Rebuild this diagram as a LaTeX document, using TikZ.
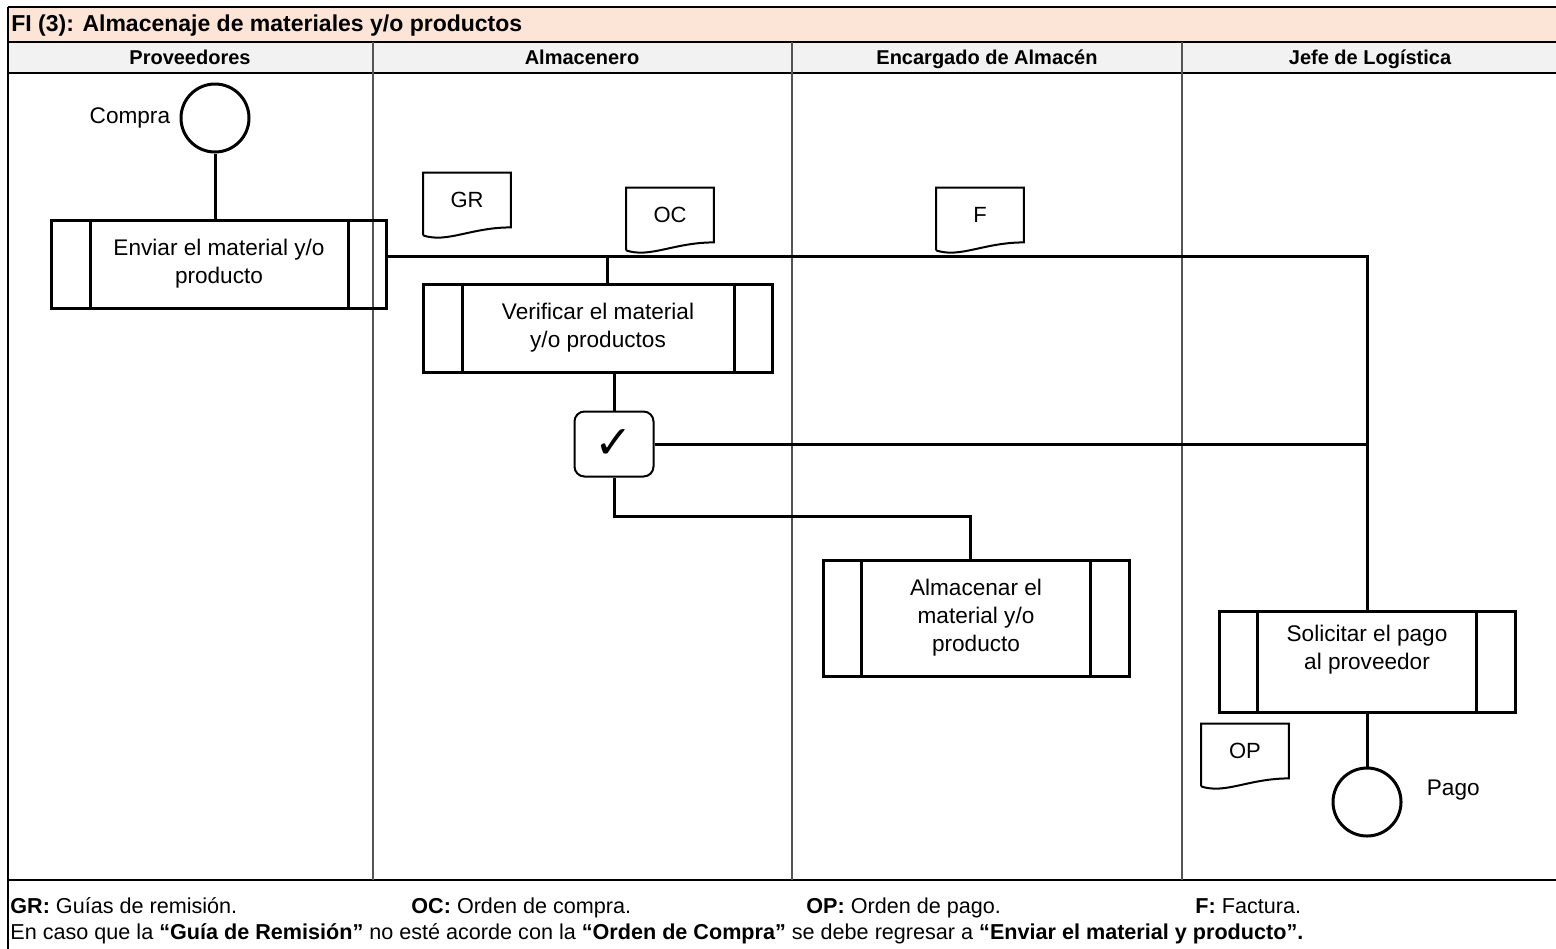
\documentclass[tikz,border=0pt]{standalone}
\usepackage{fontspec}
\setmainfont{Liberation Sans}
\newfontfamily\symfont{DejaVu Sans}
\usetikzlibrary{positioning,calc}
\definecolor{titlebg}{HTML}{FCE4D6}
\definecolor{headbg}{HTML}{F2F2F2}
\definecolor{lanecol}{HTML}{555555}

\begin{document}
\begin{tikzpicture}[x=0.5pt,y=-0.5pt,
      proc/.style={draw,line width=1.5pt,align=center,inner sep=0pt,
                   font=\fontsize{11.3}{14}\selectfont},
      term/.style={circle,draw,line width=1.5pt,minimum size=34pt,inner sep=0pt},
      doc/.style={minimum width=43.5pt,minimum height=27pt,inner sep=0pt,
                  font=\fontsize{11}{13}\selectfont},
      chk/.style={draw,rounded corners=5pt,line width=1pt,minimum width=39.5pt,
                  minimum height=32.5pt,inner sep=0pt,font=\symfont\bfseries\fontsize{23}{23}\selectfont},
      lbl/.style={inner sep=0pt,align=center,font=\fontsize{11.3}{14}\selectfont},
      head/.style={inner sep=0pt,anchor=base,font=\bfseries\fontsize{10}{12}\selectfont},
      note/.style={inner sep=0pt,anchor=base west,font=\fontsize{10.8}{12}\selectfont},
      conn/.style={line width=1.5pt},
      lane/.style={draw=lanecol,line width=0.6pt},
      rulel/.style={line width=1.2pt}]

    \useasboundingbox (0,0) rectangle (1556,948);

    % table frame
    \fill[titlebg] (8,7) rectangle (1560,42);
    \fill[headbg] (8,42) rectangle (1560,73);
    \draw[rulel] (8,7) -- (1560,7);
    \draw[rulel] (8,42) -- (1560,42);
    \draw[rulel] (8,73) -- (1560,73);
    \draw[rulel] (8,880) -- (1560,880);
    \draw[line width=1pt] (8,7) -- (8,950);
    \foreach \x in {373,792,1182}
      \draw[lane] (\x,42) -- (\x,880);

    \node[head,anchor=base west,font=\bfseries\fontsize{11.5}{13}\selectfont] (title) at (11,31)
      {FI (3): Almacenaje de materiales y/o productos};
    \node[head] (h1) at (190,64) {Proveedores};
    \node[head] (h2) at (582,64) {Almacenero};
    \node[head] (h3) at (987,64) {Encargado de Almacén};
    \node[head] (h4) at (1370,64) {Jefe de Logística};

    % flow
    \node[term] (compra) at (215,118) {};
    \node[lbl,left=4.5pt of compra] (compra-t) {Compra};

    \node[proc,minimum width=167.5pt,minimum height=44pt] (enviar) at (219,264)
      {Enviar el material y/o\\producto};
    \node[proc,minimum width=174.5pt,minimum height=44pt] (verificar) at (598,328)
      {Verificar el material\\y/o productos};
    \node[chk] (chk) at (614,444) {✓};
    \node[proc,minimum width=153pt,minimum height=58pt] (almacenar) at (976,618)
      {Almacenar el\\material y/o\\producto};
    \node[proc,minimum width=148pt,minimum height=50.5pt] (solicitar) at (1367,662) {};
    \node[lbl] (solicitar-t) at ([yshift=6pt]solicitar.center) {Solicitar el pago\\al proveedor};
    \node[term] (pago) at (1367,802) {};
    \node[lbl,right=12pt of pago,yshift=6pt] (pago-t) {Pago};

    \foreach \p in {enviar,verificar,almacenar,solicitar}{
      \draw[conn] ([xshift=20pt]\p.north west) -- ([xshift=20pt]\p.south west);
      \draw[conn] ([xshift=-20pt]\p.north east) -- ([xshift=-20pt]\p.south east);
    }

    % documents
    \node[doc] (gr) at (467,200) {GR};
    \node[doc] (oc) at (670,215) {OC};
    \node[doc] (fac) at (980,215) {F};
    \node[doc] (op) at (1245,751) {OP};
    \foreach \d in {gr,oc,fac,op}
      \draw[line width=1pt] ([yshift=-4pt]\d.south west) -- (\d.north west) -- (\d.north east)
        -- (\d.south east) .. controls ([xshift=-20pt]\d.south east)
        and ([xshift=12pt,yshift=-8pt]\d.south west) .. ([yshift=-4pt]\d.south west);

    % connectors
    \coordinate (bus) at ([yshift=4pt]enviar.east);
    \draw[conn] (compra.south) -- (compra.south |- enviar.north);
    \draw[conn] (bus) -- (bus -| solicitar.north) -- (solicitar.north);
    \draw[conn] ([xshift=4.5pt]verificar.north) -- ([xshift=4.5pt]verificar.north |- bus);
    \draw[conn] (verificar.south -| chk) -- (chk.north);
    \draw[conn] (chk.east) -- (chk.east -| solicitar.north);
    \draw[conn] (chk.south) -- ([yshift=-19.5pt]chk.south) -| ([xshift=-3pt]almacenar.north);
    \draw[conn] (solicitar.south) -- (pago.north);

    % legend
    \node[note] (n-gr) at (10,913) {\textbf{GR:} Guías de remisión.};
    \node[note] (n-oc) at (411,913) {\textbf{OC:} Orden de compra.};
    \node[note] (n-op) at (806,913) {\textbf{OP:} Orden de pago.};
    \node[note] (n-f) at (1195,913) {\textbf{F:} Factura.};
    \node[note] (n-txt) at (10,939) {En caso que la \textbf{“Guía de Remisión”} no esté acorde con la
      \textbf{“Orden de Compra”} se debe regresar a \textbf{“Enviar el material y producto”.}};
  \end{tikzpicture}
\end{document}
